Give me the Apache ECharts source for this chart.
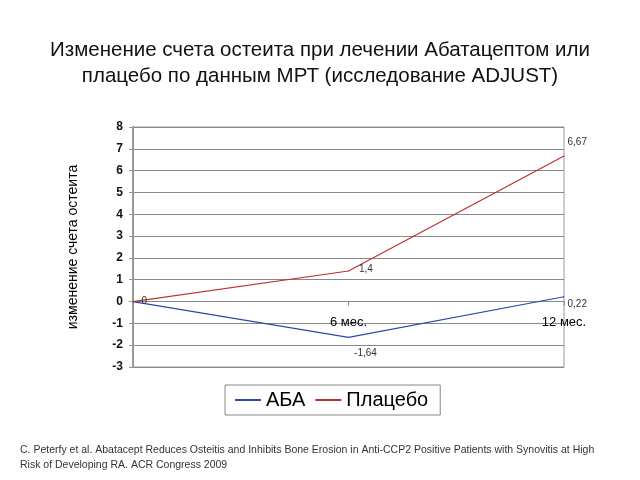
<!DOCTYPE html>
<html><head><meta charset="utf-8">
<script src="https://cdn.jsdelivr.net/npm/echarts@6/dist/echarts.min.js"></script>
<style>html,body{margin:0;padding:0;background:#fff}#c{width:640px;height:480px}</style>
</head><body><div id="c"></div>
<script>
const categories = ['', '6 мес.', '12 мес.'];
const abaValues = [0, -1.64, 0.22];
const placeboValues = [0, 1.4, 6.67];
const seriesNames = ['АБА', 'Плацебо'];
const yTicks = {min: -3, max: 8, interval: 1};
const titleText = 'Изменение счета остеита при лечении Абатацептом или\nплацебо по данным МРТ (исследование ADJUST)';
const yAxisName = 'изменение счета остеита';
const footnote = 'C. Peterfy et al. Abatacept Reduces Osteitis and Inhibits Bone Erosion in Anti-CCP2 Positive Patients with Synovitis at High\nRisk of Developing RA. ACR Congress 2009';

const fmt = p => String(p.value).replace('.', ',');
const labelBase = {show: true, fontSize: 10, color: '#333', fontFamily: 'Liberation Sans', formatter: fmt};
const abaLabels = [
  {show: false},
  {position: 'bottom', distance: 8, offset: [17, 2]},
  {position: 'right', distance: 3, offset: [0, 8]}
];
const placeboLabels = [
  {position: 'right', distance: 8, offset: [0, 0]},
  {position: 'right', distance: 10, offset: [0, -2]},
  {position: 'right', distance: 3, offset: [0, -14]}
];
function build(vals, labs) {
  return vals.map((v, i) => ({value: v, label: Object.assign({}, labelBase, labs[i])}));
}
const chart = echarts.init(document.getElementById('c'), null, {renderer: 'canvas'});
chart.setOption({
  backgroundColor: '#fff',
  animation: false,
  title: [
    {text: titleText, left: 'center', top: 32, textStyle: {fontFamily: 'Liberation Sans', fontSize: 20.5, fontWeight: 'normal', color: '#111', lineHeight: 26}},
    {text: footnote, left: 15, top: 438, textStyle: {fontFamily: 'Liberation Sans', fontSize: 10.5, fontWeight: 'normal', color: '#333', lineHeight: 15}}
  ],
  legend: {
    left: 225, top: 385, width: 212,
    data: seriesNames,
    borderColor: '#888', borderWidth: 1, borderRadius: 0,
    padding: [5, 12, 5, 10],
    itemGap: 10, itemWidth: 26, itemHeight: 2, icon: 'rect',
    textStyle: {fontFamily: 'Liberation Sans', fontSize: 20, color: '#000'}
  },
  grid: {left: 133, right: 76, top: 127, bottom: 113, show: true, borderColor: '#999', borderWidth: 1},
  xAxis: {
    type: 'category', data: categories, boundaryGap: false,
    axisLine: {onZero: true, lineStyle: {color: '#888'}},
    axisTick: {show: true, length: 4, lineStyle: {color: '#888'}},
    axisLabel: {margin: -51, fontFamily: 'Liberation Sans', fontSize: 13, color: '#000'},
    splitLine: {show: false}
  },
  yAxis: {
    type: 'value', min: yTicks.min, max: yTicks.max, interval: yTicks.interval,
    name: yAxisName, nameLocation: 'middle', nameGap: 53, nameRotate: 90,
    nameTextStyle: {fontFamily: 'Liberation Sans', fontSize: 14, color: '#000'},
    axisLine: {show: true, lineStyle: {color: '#999', width: 2}},
    axisTick: {show: true, length: 4, lineStyle: {color: '#999'}},
    axisLabel: {fontFamily: 'Liberation Sans', fontSize: 12, fontWeight: 'bold', color: '#111', margin: 10},
    splitLine: {lineStyle: {color: '#888', width: 1}}
  },
  series: [
    {name: seriesNames[0], type: 'line', data: build(abaValues, abaLabels), symbol: 'circle', symbolSize: 1,
     color: '#2a4aa8', lineStyle: {color: '#2a4aa8', width: 1.2}, itemStyle: {color: '#2a4aa8'}},
    {name: seriesNames[1], type: 'line', data: build(placeboValues, placeboLabels), symbol: 'circle', symbolSize: 1,
     color: '#c03030', lineStyle: {color: '#c03030', width: 1.2}, itemStyle: {color: '#c03030'}}
  ]
});
</script></body></html>
